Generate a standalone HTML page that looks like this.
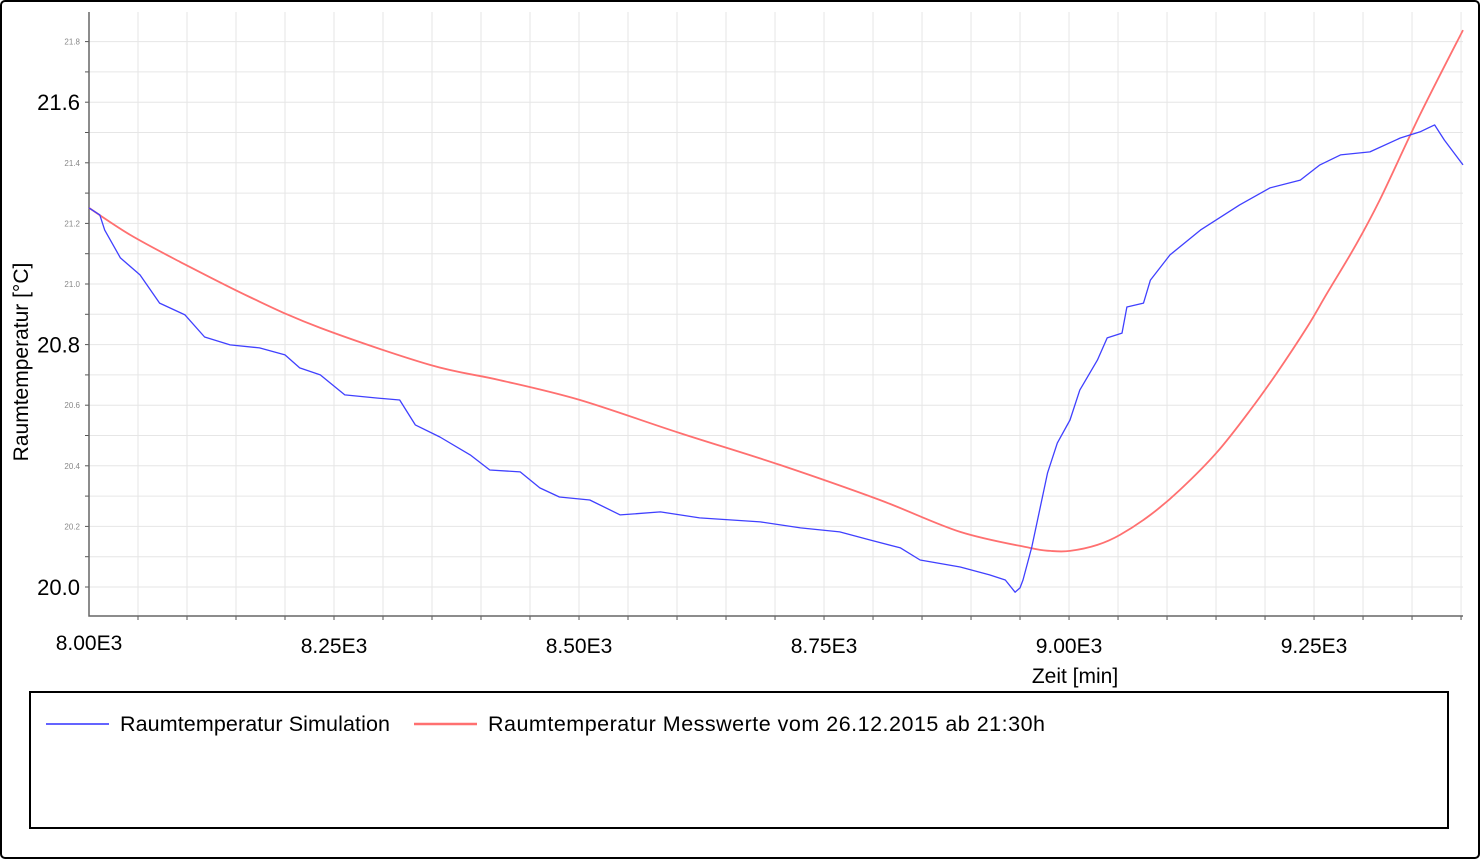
<!DOCTYPE html>
<html><head><meta charset="utf-8"><style>
body{margin:0;background:#fff;}
svg{display:block;font-family:"Liberation Sans",Arial,sans-serif;}
</style></head><body>
<svg id="chart" width="1480" height="859">
<rect x="1" y="1" width="1478" height="857" rx="4" fill="#fff" stroke="#000" stroke-width="2"/>
<g id="grid"></g>
<g id="axes"></g>
<g id="series"></g>
<text x="1075" y="683" font-size="21" text-anchor="middle" fill="#000">Zeit [min]</text>
<text transform="translate(28,362) rotate(-90)" font-size="21" text-anchor="middle" fill="#000">Raumtemperatur [°C]</text>
<g>
<rect x="30" y="692" width="1418" height="136" fill="#fff" stroke="#000" stroke-width="2"/>
<g>
<line x1="46" y1="724" x2="109" y2="724" stroke="#3030ff" stroke-width="1.5"/>
<text x="120" y="731" font-size="21.5" fill="#000" textLength="270">Raumtemperatur Simulation</text></g>
<g>
<line x1="414" y1="724" x2="477" y2="724" stroke="#ff7070" stroke-width="2.5"/>
<text x="488" y="731" font-size="21.5" fill="#000" textLength="557">Raumtemperatur Messwerte vom 26.12.2015 ab 21:30h</text></g>
</g>
</svg>
<script>
const simTime=[8000,8011,8016,8032,8052,8072,8098,8118,8144,8174,8200,8215,8236,8261,8292,8317,8333,8358,8389,8409,8440,8460,8480,8511,8542,8583,8623,8685,8726,8766,8797,8828,8848,8889,8919,8935,8945,8950,8953,8962,8978,8988,9001,9011,9029,9039,9054,9059,9076,9083,9103,9134,9174,9205,9236,9256,9277,9307,9338,9358,9373,9383,9402];
const simTemp=[21.251,21.228,21.178,21.086,21.030,20.937,20.898,20.825,20.799,20.789,20.766,20.723,20.700,20.634,20.624,20.617,20.535,20.495,20.436,20.386,20.380,20.327,20.297,20.287,20.238,20.248,20.228,20.215,20.195,20.182,20.155,20.129,20.089,20.066,20.040,20.023,19.983,19.997,20.023,20.132,20.376,20.475,20.551,20.650,20.749,20.822,20.838,20.924,20.937,21.013,21.096,21.178,21.261,21.317,21.343,21.393,21.426,21.436,21.482,21.502,21.525,21.475,21.393];
const measTime=[8000,8042,8093,8164,8236,8348,8419,8501,8603,8705,8807,8889,8960,8981,9001,9029,9052,9083,9113,9151,9185,9212,9243,9263,9292,9317,9358,9402];
const measTemp=[21.251,21.162,21.073,20.957,20.855,20.733,20.683,20.617,20.508,20.403,20.287,20.182,20.129,20.119,20.119,20.139,20.172,20.238,20.320,20.445,20.584,20.706,20.858,20.968,21.125,21.277,21.558,21.838];
const xMajorTicks=[8000,8250,8500,8750,9000,9250];
const xMajorLabels=["8.00E3","8.25E3","8.50E3","8.75E3","9.00E3","9.25E3"];
const yTicks=[20.0,20.2,20.4,20.6,20.8,21.0,21.2,21.4,21.6,21.8];
const yLabels=["20.0","20.2","20.4","20.6","20.8","21.0","21.2","21.4","21.6","21.8"];
const yBig=[true,false,false,false,true,false,false,false,true,false];

const X0=89,X1=1463,Y0=12,Y1=616;
const xMin=8000,xMax=9402;
function sx(t){return X0+(t-xMin)*(X1-X0)/(xMax-xMin);}
function sy(v){return 587-(v-20)*303;}
const NS="http://www.w3.org/2000/svg";
function mk(tag,attrs,parent){const e=document.createElementNS(NS,tag);for(const k in attrs)e.setAttribute(k,attrs[k]);parent.appendChild(e);return e;}
const grid=document.getElementById('grid'),axes=document.getElementById('axes'),series=document.getElementById('series');
for(let t=8050;t<xMax;t+=50){const l=mk('line',{x1:sx(t),x2:sx(t),y1:Y0,y2:Y1,stroke:'#e6e6e6','stroke-width':1},grid);


const tk=mk('line',{x1:sx(t),x2:sx(t),y1:Y1,y2:Y1+4,stroke:'#555'},axes);

}
for(let v=19.9;v<21.95;v+=0.1){const y=sy(v);if(y<Y0||y>Y1-1)continue;const l=mk('line',{x1:X0,x2:X1,y1:y,y2:y,stroke:'#e6e6e6','stroke-width':1},grid);


const tk=mk('line',{x1:X0-4,x2:X0,y1:y,y2:y,stroke:'#555'},axes);

}
const ax=mk('path',{d:`M${X0},${Y0}V${Y1}H${X1}`,fill:'none',stroke:'#666','stroke-width':1.5},axes);


xMajorTicks.forEach((t,i)=>{const tx=mk('text',{x:sx(t),y:i==0?650:653,'font-size':21,'text-anchor':'middle',fill:'#000'},axes);tx.textContent=xMajorLabels[i];

});
yTicks.forEach((v,i)=>{const big=yBig[i];const tx=mk('text',{x:X0-9,y:sy(v)+(big?8:3),'font-size':big?22:8,'text-anchor':'end',fill:big?'#000':'#888'},axes);tx.textContent=yLabels[i];

});
function line(ts,vs,color,w,name,smooth){const P=ts.map((t,i)=>[sx(t),sy(vs[i])]);let d='M'+P[0][0].toFixed(1)+','+P[0][1].toFixed(1);
for(let i=1;i<P.length;i++){if(smooth){const p0=P[Math.max(0,i-2)],p1=P[i-1],p2=P[i],p3=P[Math.min(P.length-1,i+1)];
const c1=[p1[0]+(p2[0]-p0[0])/6,p1[1]+(p2[1]-p0[1])/6],c2=[p2[0]-(p3[0]-p1[0])/6,p2[1]-(p3[1]-p1[1])/6];
d+='C'+c1.map(v=>v.toFixed(1)).join(',')+' '+c2.map(v=>v.toFixed(1)).join(',')+' '+p2[0].toFixed(1)+','+p2[1].toFixed(1);}
else d+='L'+P[i][0].toFixed(1)+','+P[i][1].toFixed(1);}
const p=mk('path',{d:d,fill:'none',stroke:color,'stroke-width':w,'stroke-linejoin':'round'},series);

}
line(measTime,measTemp,'#ff7070',1.8,'messwerte-line',true);
line(simTime,simTemp,'#4040ff',1.3,'simulation-line',false);
</script>
</body></html>
